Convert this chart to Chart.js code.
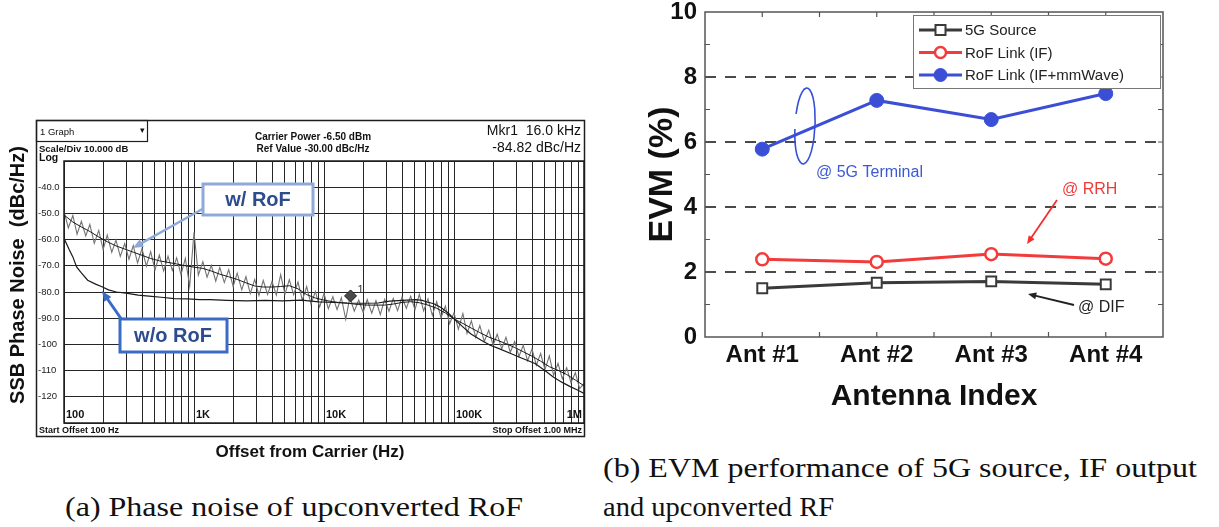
<!DOCTYPE html>
<html>
<head>
<meta charset="utf-8">
<script src="https://cdn.jsdelivr.net/npm/chart.js@4.4.1/dist/chart.umd.min.js"></script>
<style>
  body { margin: 0; background: #fff; width: 1219px; height: 527px; overflow: hidden; position: relative; }
  canvas { position: absolute; }
  #phase { left: 0; top: 0; }
  #evm { left: 600px; top: 0; }
  .cap { position: absolute; font-family: "Liberation Serif", serif; font-size: 27px; color: #111;
         white-space: nowrap; transform-origin: 0 50%; line-height: 1; }
</style>
</head>
<body>
<canvas id="phase" width="600" height="470"></canvas>
<canvas id="evm" width="619" height="440"></canvas>
<div class="cap" data-w="458" style="left:65px;top:494px">(a) Phase noise of upconverted RoF</div>
<div class="cap" data-w="594" style="left:603px;top:455px">(b) EVM performance of 5G source, IF output</div>
<div class="cap" data-w="231" style="left:603px;top:494px">and upconverted RF</div>

<script>
// ---- (a) phase noise data ----
const freqRoF = [
  100, 108, 117, 126, 136, 147, 158, 171, 185, 200, 215, 233, 251, 271, 293, 316, 341, 368, 398, 430, 464, 501, 541, 584, 631, 681, 736, 794, 858, 926,
  1000, 1080, 1170, 1260, 1360, 1470, 1580, 1710, 1850, 2000, 2150, 2330, 2510, 2710, 2930, 3160, 3410, 3680, 3980, 4300, 4640, 5010, 5410, 5840, 6310, 6810, 7360, 7940, 8580, 9260,
  10000, 10800, 11700, 12600, 13600, 14700, 15800, 17100, 18500, 20000, 21500, 23300, 25100, 27100, 29300, 31600, 34100, 36800, 39800, 43000, 46400, 50100, 54100, 58400, 63100, 68100, 73600, 79400, 85800, 92600,
  100000, 108000, 117000, 126000, 136000, 147000, 158000, 171000, 185000, 200000, 215000, 233000, 251000, 271000, 293000, 316000, 341000, 368000, 398000, 430000, 464000, 501000, 541000, 584000, 631000, 681000, 736000, 794000, 858000, 926000, 1000000
];
const noiseRoF = [
  -49.2, -55.5, -50.8, -57.9, -53.0, -58.6, -54.2, -61.4, -56.5, -63.8, -58.3, -64.9, -60.2, -66.4, -61.5, -67.5, -62.3, -68.9, -63.4, -70.1, -64.6, -71.6, -65.9, -72.0, -66.3, -71.8, -67.0, -73.4, -67.2, -77.8,
  -57.2, -73.6, -68.4, -74.3, -69.8, -75.9, -70.6, -76.4, -71.5, -77.9, -72.8, -79.2, -74.1, -80.6, -75.2, -81.3, -75.6, -80.9, -76.0, -81.2, -73.4, -80.8, -75.3, -81.0, -76.2, -83.1, -77.9, -84.6, -79.8, -85.7,
  -80.6, -86.4, -81.8, -86.7, -82.2, -90.4, -82.0, -87.3, -83.1, -87.8, -82.9, -88.1, -83.3, -88.6, -82.8, -87.4, -82.5, -87.1, -82.0, -86.3, -81.6, -86.7, -80.9, -87.2, -82.6, -88.9, -83.7, -89.8, -85.4, -92.1,
  -87.9, -94.2, -88.2, -95.8, -91.0, -97.3, -92.8, -98.9, -94.6, -100.2, -96.1, -101.7, -97.3, -103.0, -98.9, -104.6, -100.3, -106.2, -101.8, -107.9, -103.5, -109.6, -104.4, -111.8, -107.2, -113.1, -108.9, -114.6, -110.8, -116.9, -115.0
];
const avgFreqRoF = [
  100, 117, 136, 158, 185, 215, 251, 293, 341, 398, 464, 541, 631, 736, 858,
  1000, 1170, 1360, 1580, 1850, 2150, 2510, 2930, 3410, 3980, 4640, 5410, 6310, 7360, 8580,
  10000, 11700, 13600, 15800, 18500, 21500, 25100, 29300, 34100, 39800, 46400, 54100, 63100, 73600, 85800,
  100000, 117000, 136000, 158000, 185000, 215000, 251000, 293000, 341000, 398000, 464000, 541000, 631000, 736000, 858000, 1000000
];
const avgRoF = [
  -50.6, -53.3, -55.2, -56.9, -59, -60.8, -62.4, -63.6, -64.8, -66, -67.2, -68.1, -68.7, -69.3, -70,
  -70.5, -71, -72, -73.2, -74.2, -75.2, -76.5, -77.7, -78.1, -78.1, -77.9, -77.6, -78.8, -81, -82.3,
  -83.1, -83.7, -84.1, -84.4, -84.8, -85, -85, -85, -84.6, -84, -83.7, -84.1, -85, -86.2, -88,
  -90.3, -92, -93.8, -95.5, -97.2, -98.4, -99.7, -101.2, -102.8, -104.5, -106.4, -108.5, -109.9, -111.5, -113.6, -115.8
];
const freqNoRoF = [
  100, 110, 117, 125, 135, 152, 175, 196, 220, 253, 300, 372, 450, 560, 705, 900, 1100, 1330, 1800, 2540,
  3500, 4800, 6700, 9100, 12000, 15000, 20000, 26000, 32000, 40000, 51000, 57000, 62000, 70000, 80000,
  91000, 104000, 117000, 135000, 162000, 190000, 222000, 270000, 330000, 420000, 500000, 580000, 680000, 790000, 900000, 1000000
];
const valsNoRoF = [
  -59.5, -64, -66.6, -70.4, -72.5, -75.5, -77, -78, -79.2, -80, -80.4, -81.2, -81.6, -82, -82.5, -82.6, -82.9, -82.9, -83.2, -83.4,
  -83.2, -83.4, -83.1, -83.8, -84, -84.2, -84.3, -84.2, -83.5, -83.2, -82.9, -83.2, -83.8, -84.5, -86,
  -88.2, -91, -93.3, -96, -98.4, -100.3, -101.6, -103.4, -105.2, -107.3, -110, -112.4, -114.5, -116.2, -117.5, -118.7
];
const markerFreq = [16000];
const markerLevel = [-81.5];
const xTickValues = [100, 1000, 10000, 100000, 1000000];
const xTickLabels = ['100', '1K', '10K', '100K', '1M'];
const yTickLabels = { '-40': '-40.0', '-50': '-50.0', '-60': '-60.0', '-70': '-70.0', '-80': '-80.0',
                      '-90': '-90.0', '-100': '-100', '-110': '-110', '-120': '-120' };

// ---- (b) EVM data ----
const antennas = ['Ant #1', 'Ant #2', 'Ant #3', 'Ant #4'];
const evmSource = [1.50, 1.67, 1.71, 1.62];
const evmIF = [2.39, 2.31, 2.55, 2.41];
const evmMmWave = [5.78, 7.28, 6.69, 7.49];

const SANS = '"Liberation Sans", Arial, sans-serif';
const pts = (xs, ys) => xs.map((f, i) => ({ x: f, y: ys[i] }));

function arrow(ctx, x1, y1, x2, y2, color, width, head) {
  const ang = Math.atan2(y2 - y1, x2 - x1);
  ctx.strokeStyle = color; ctx.fillStyle = color; ctx.lineWidth = width;
  ctx.beginPath();
  ctx.moveTo(x1, y1);
  ctx.lineTo(x2 - Math.cos(ang) * head * 0.8, y2 - Math.sin(ang) * head * 0.8);
  ctx.stroke();
  ctx.beginPath();
  ctx.moveTo(x2, y2);
  ctx.lineTo(x2 - head * Math.cos(ang - 0.4), y2 - head * Math.sin(ang - 0.4));
  ctx.lineTo(x2 - head * Math.cos(ang + 0.4), y2 - head * Math.sin(ang + 0.4));
  ctx.closePath();
  ctx.fill();
}

function text(ctx, s, x, y, font, color, align) {
  ctx.font = font; ctx.fillStyle = color;
  ctx.textAlign = align || 'left'; ctx.textBaseline = 'middle';
  ctx.fillText(s, x, y);
}

// analyser screen decorations
const phaseDecor = {
  id: 'phaseDecor',
  afterDraw(chart) {
    const { ctx, chartArea: a, scales: { x, y } } = chart;
    ctx.save();
    ctx.strokeStyle = '#1e1e1e';
    ctx.lineWidth = 1.5;
    ctx.strokeRect(36.5, 120.5, 548, 316);
    ctx.strokeRect(a.left, a.top, a.right - a.left, a.bottom - a.top);
    ctx.lineWidth = 1.2;
    ctx.strokeRect(36.5, 120.5, 111, 21);

    text(ctx, '1 Graph', 40, 132, '9.5px ' + SANS, '#111');
    text(ctx, '\u25BE', 142, 131, '9px ' + SANS, '#111', 'center');
    text(ctx, 'Scale/Div 10.000 dB', 39, 149, 'bold 9.5px ' + SANS, '#111');
    text(ctx, 'Log', 39, 158, 'bold 10.5px ' + SANS, '#111');
    text(ctx, 'Carrier Power -6.50 dBm', 313, 137, 'bold 10px ' + SANS, '#111', 'center');
    text(ctx, 'Ref Value -30.00 dBc/Hz', 313, 149, 'bold 10px ' + SANS, '#111', 'center');
    text(ctx, 'Mkr1  16.0 kHz', 581, 131, '14px ' + SANS, '#111', 'right');
    text(ctx, '-84.82 dBc/Hz', 581, 148, '14px ' + SANS, '#111', 'right');

    xTickValues.forEach((v, i) => {
      const px = x.getPixelForValue(v);
      const last = i === xTickValues.length - 1;
      text(ctx, xTickLabels[i], last ? px - 2 : px + 2, 415, 'bold 11px ' + SANS, '#111', last ? 'right' : 'left');
    });
    text(ctx, 'Start Offset 100 Hz', 39, 431, 'bold 9px ' + SANS, '#111');
    text(ctx, 'Stop Offset 1.00 MHz', 582, 431, 'bold 9px ' + SANS, '#111', 'right');
    text(ctx, 'Offset from Carrier (Hz)', 310, 452, 'bold 17px ' + SANS, '#111', 'center');

    ctx.save();
    ctx.translate(18, 275);
    ctx.rotate(-Math.PI / 2);
    text(ctx, 'SSB Phase Noise  (dBc/Hz)', 0, 0, 'bold 20px ' + SANS, '#111', 'center');
    ctx.restore();

    // marker label
    const mx = x.getPixelForValue(markerFreq[0]);
    const my = y.getPixelForValue(markerLevel[0]);
    text(ctx, '1', mx + 7, my - 6, '11px ' + SANS, '#333');

    // annotation boxes
    arrow(ctx, 206, 207, 133, 248, '#8faad8', 2.5, 11);
    ctx.fillStyle = '#fff';
    ctx.fillRect(203, 184, 110, 31);
    ctx.strokeStyle = '#8faad8'; ctx.lineWidth = 3;
    ctx.strokeRect(203, 184, 110, 31);
    text(ctx, 'w/ RoF', 258, 200, 'bold 20px ' + SANS, '#2c4c8e', 'center');

    arrow(ctx, 122, 320, 102, 291, '#3b6cc5', 3, 11);
    ctx.fillStyle = '#fff';
    ctx.fillRect(120, 319, 107, 33);
    ctx.strokeStyle = '#3b6cc5'; ctx.lineWidth = 3;
    ctx.strokeRect(120, 319, 107, 33);
    text(ctx, 'w/o RoF', 173, 336, 'bold 20px ' + SANS, '#2c4c8e', 'center');
    ctx.restore();
  }
};

const gridFreqs = [100, 1000, 10000, 100000].flatMap(d => [1, 2, 3, 4, 5, 6, 7, 8, 9].map(m => m * d)).concat([1000000]);

new Chart(document.getElementById('phase'), {
  type: 'line',
  data: {
    datasets: [
      { label: 'marker', data: pts(markerFreq, markerLevel), showLine: false, pointStyle: 'rectRot',
        pointRadius: 6, pointBackgroundColor: '#4a4a4a', pointBorderColor: '#222', pointBorderWidth: 1, order: 0 },
      { label: 'w/ RoF avg', data: pts(avgFreqRoF, avgRoF), borderColor: '#1a1a1a', borderWidth: 1, pointRadius: 0, order: 1 },
      { label: 'w/o RoF', data: pts(freqNoRoF, valsNoRoF), borderColor: '#1a1a1a', borderWidth: 1.2, pointRadius: 0, order: 1 },
      { label: 'w/ RoF', data: pts(freqRoF, noiseRoF), borderColor: '#747474', borderWidth: 1.1, pointRadius: 0, order: 2 }
    ]
  },
  options: {
    responsive: false, animation: false, devicePixelRatio: 1,
    layout: { padding: { left: 38, right: 16, top: 161, bottom: 47 } },
    plugins: { legend: { display: false }, tooltip: { enabled: false } },
    scales: {
      x: {
        type: 'logarithmic', min: 100, max: 1000000,
        afterBuildTicks: s => { s.ticks = gridFreqs.map(v => ({ value: v })); },
        ticks: { display: false },
        grid: { color: '#262626', lineWidth: 1, drawTicks: false },
        border: { display: false },
        afterFit: s => { s.height = 0; }
      },
      y: {
        min: -130, max: -30,
        ticks: { stepSize: 10, crossAlign: 'far', color: '#222', font: { family: SANS, size: 9.5 },
                 callback: v => yTickLabels[String(v)] || '' },
        grid: { color: '#262626', lineWidth: 1, drawTicks: false },
        border: { display: false },
        afterFit: s => { s.width = 26; s.paddingTop = 0; s.paddingBottom = 0; }
      }
    }
  },
  plugins: [phaseDecor]
});

// EVM frame, legend and notes
const evmDecor = {
  id: 'evmDecor',
  afterDraw(chart) {
    const { ctx, chartArea: a, scales: { x, y } } = chart;
    ctx.save();
    ctx.strokeStyle = '#555'; ctx.lineWidth = 1.5;
    ctx.strokeRect(a.left, a.top, a.right - a.left, a.bottom - a.top);
    ctx.lineWidth = 1.2;
    for (let v = 1; v < 10; v++) {
      const py = y.getPixelForValue(v);
      ctx.beginPath();
      ctx.moveTo(a.left, py); ctx.lineTo(a.left + 5, py);
      ctx.moveTo(a.right, py); ctx.lineTo(a.right - 5, py);
      ctx.stroke();
    }
    for (let i = 0; i < antennas.length * 2 - 1; i++) {
      const px = x.getPixelForValue(i / 2);
      ctx.beginPath();
      ctx.moveTo(px, a.bottom); ctx.lineTo(px, a.bottom - 5);
      ctx.moveTo(px, a.top); ctx.lineTo(px, a.top + 5);
      ctx.stroke();
    }

    // legend
    ctx.fillStyle = '#fff';
    ctx.fillRect(313, 15, 247, 73);
    ctx.strokeStyle = '#777'; ctx.lineWidth = 1;
    ctx.strokeRect(313.5, 15.5, 247, 73);
    chart.data.datasets.forEach((ds, i) => {
      const ly = 30 + i * 22.5;
      ctx.strokeStyle = ds.borderColor; ctx.lineWidth = 3;
      ctx.beginPath(); ctx.moveTo(319, ly); ctx.lineTo(362, ly); ctx.stroke();
      ctx.lineWidth = ds.pointBorderWidth;
      ctx.fillStyle = ds.pointBackgroundColor;
      ctx.beginPath();
      if (ds.pointStyle === 'rect') ctx.rect(335.5, ly - 5, 10, 10);
      else ctx.arc(340.5, ly, ds.pointRadius - 0.5, 0, Math.PI * 2);
      ctx.fill(); ctx.stroke();
      text(ctx, ds.label, 365, ly + 1, '15px ' + SANS, '#222');
    });

    // notes
    ctx.strokeStyle = '#3550d8'; ctx.lineWidth = 1.6;
    ctx.beginPath();
    ctx.ellipse(205, 126, 10, 38, 0.05, 3.45, 3.05 + Math.PI * 2);
    ctx.stroke();
    text(ctx, '@ 5G Terminal', 216, 173, '16px ' + SANS, '#3a5ad6');
    text(ctx, '@ RRH', 462, 190, '16px ' + SANS, '#f03a3a');
    arrow(ctx, 457, 200, 427, 244, '#f03030', 1.8, 9);
    text(ctx, '@ DIF', 478, 308, '16px ' + SANS, '#222');
    arrow(ctx, 474, 305, 428, 294, '#222', 1.8, 9);
    ctx.restore();
  }
};

new Chart(document.getElementById('evm'), {
  type: 'line',
  data: {
    labels: antennas,
    datasets: [
      { label: '5G Source', data: evmSource, borderColor: '#3a3a3a', borderWidth: 3, pointStyle: 'rect',
        pointRadius: 7, pointBorderWidth: 2, pointBackgroundColor: '#fff', pointBorderColor: '#3a3a3a' },
      { label: 'RoF Link (IF)', data: evmIF, borderColor: '#f23c3c', borderWidth: 3, pointStyle: 'circle',
        pointRadius: 6, pointBorderWidth: 2.5, pointBackgroundColor: '#fff', pointBorderColor: '#f23c3c' },
      { label: 'RoF Link (IF+mmWave)', data: evmMmWave, borderColor: '#3a4fd6', borderWidth: 3, pointStyle: 'circle',
        pointRadius: 7, pointBorderWidth: 1, pointBackgroundColor: '#3a4fd6', pointBorderColor: '#3a4fd6' }
    ]
  },
  options: {
    responsive: false, animation: false, devicePixelRatio: 1,
    layout: { padding: { left: 0, right: 56, top: 12, bottom: 0 } },
    plugins: { legend: { display: false }, tooltip: { enabled: false } },
    scales: {
      x: {
        offset: true,
        grid: { display: false, drawTicks: false, tickLength: 0 },
        border: { display: false },
        ticks: { color: '#111', padding: 4, font: { family: SANS, size: 24, weight: 'bold' } },
        title: { display: true, text: 'Antenna Index', color: '#111', padding: { top: 0, bottom: 25 },
                 font: { family: SANS, size: 30, weight: 'bold' } },
        afterFit: s => { s.height = 103; s.paddingLeft = 0; s.paddingRight = 0; }
      },
      y: {
        min: 0, max: 10,
        ticks: { stepSize: 2, color: '#111', padding: 8, font: { family: SANS, size: 24, weight: 'bold' } },
        grid: { drawTicks: false, lineWidth: 2, borderDash: [11, 9],
                color: c => (c.tick && (c.tick.value === 0 || c.tick.value === 10)) ? 'rgba(0,0,0,0)' : '#4a4a4a' },
        border: { display: false, dash: [11, 9] },
        title: { display: true, text: 'EVM (%)', color: '#111', padding: { top: 42, bottom: 0 },
                 font: { family: SANS, size: 34, weight: 'bold' } },
        afterFit: s => { s.width = 105; s.paddingTop = 0; s.paddingBottom = 0; }
      }
    }
  },
  plugins: [evmDecor]
});

// stretch captions to the width of the typeset originals
document.querySelectorAll('.cap').forEach(el => {
  const w = el.getBoundingClientRect().width;
  el.style.transform = 'scaleX(' + (Number(el.dataset.w) / w) + ')';
});
</script>
</body>
</html>
